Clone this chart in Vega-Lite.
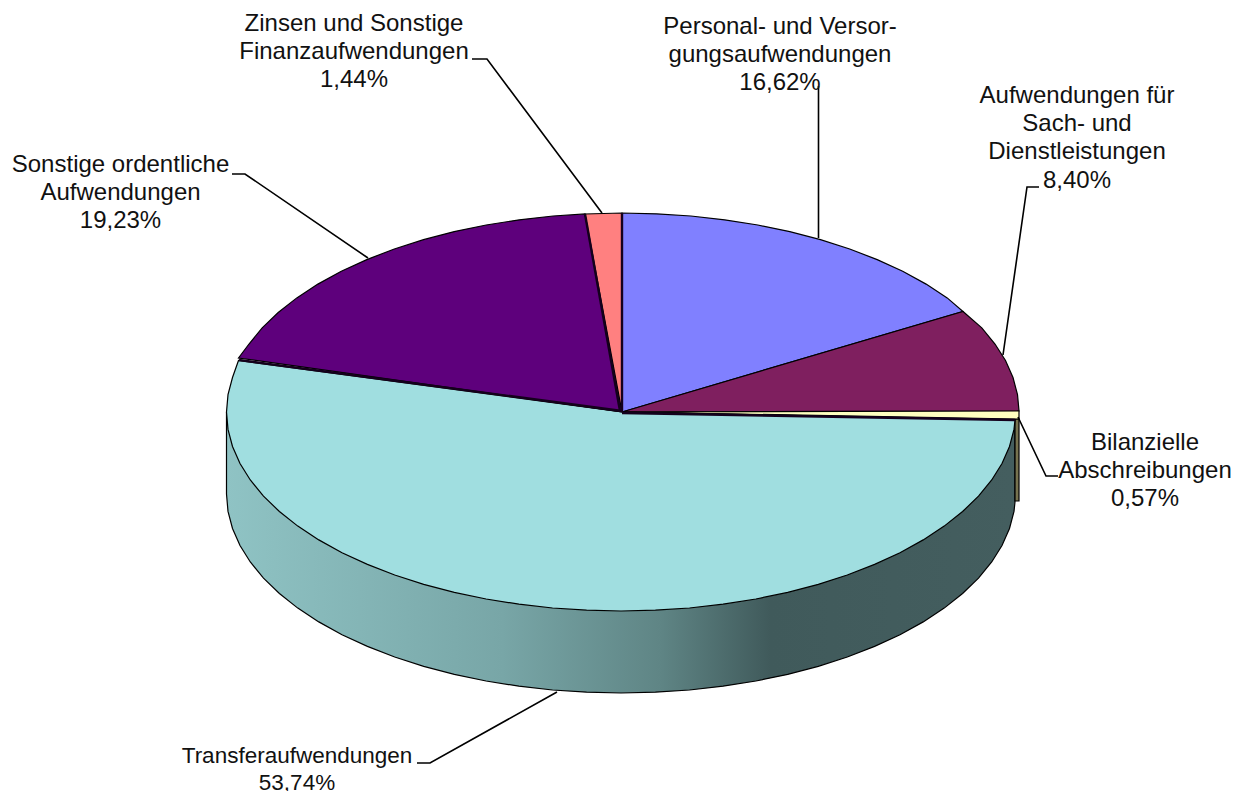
{
"$schema":"https://vega.github.io/schema/vega-lite/v6.json",
"width":1247,"height":791,
"autosize":{"type":"none"},
"padding":0,
"background":"white",
"config":{"view":{"stroke":null}},
"datasets":{
"wall":[
{"i":0,"x":226.5,"y":412},{"i":1,"x":226.5,"y":494},{"i":2,"x":228,"y":511.4},{"i":3,"x":232.5,"y":528.5},{"i":4,"x":240,"y":545.5},{"i":5,"x":250.3,"y":562},{"i":6,"x":263.5,"y":578.1},{"i":7,"x":279.4,"y":593.5},{"i":8,"x":297.8,"y":608.1},{"i":9,"x":318.8,"y":621.9},{"i":10,"x":342,"y":634.7},{"i":11,"x":367.4,"y":646.4},{"i":12,"x":394.7,"y":657},{"i":13,"x":423.7,"y":666.3},{"i":14,"x":454.3,"y":674.4},{"i":15,"x":486.1,"y":681},{"i":16,"x":518.9,"y":686.2},{"i":17,"x":552.5,"y":690},{"i":18,"x":586.6,"y":692.2},{"i":19,"x":621,"y":693},{"i":20,"x":655.4,"y":692.2},{"i":21,"x":689.5,"y":690},{"i":22,"x":723.1,"y":686.2},{"i":23,"x":755.9,"y":681},{"i":24,"x":787.7,"y":674.4},{"i":25,"x":818.3,"y":666.3},{"i":26,"x":847.3,"y":657},{"i":27,"x":874.6,"y":646.4},{"i":28,"x":900,"y":634.7},{"i":29,"x":923.2,"y":621.9},{"i":30,"x":944.2,"y":608.1},{"i":31,"x":962.6,"y":593.5},{"i":32,"x":978.5,"y":578.1},{"i":33,"x":991.7,"y":562},{"i":34,"x":1002,"y":545.5},{"i":35,"x":1009.5,"y":528.5},{"i":36,"x":1014,"y":511.4},{"i":37,"x":1015,"y":502},{"i":38,"x":1015,"y":420},{"i":39,"x":622,"y":412},{"i":40,"x":226.5,"y":412}
],
"slices":[
{"slice":"Abschreibungen Seite","i":0,"x":1015,"y":419},{"slice":"Abschreibungen Seite","i":1,"x":1019,"y":419},{"slice":"Abschreibungen Seite","i":2,"x":1019,"y":501},{"slice":"Abschreibungen Seite","i":3,"x":1015,"y":501},{"slice":"Abschreibungen Seite","i":4,"x":1015,"y":419},

{"slice":"Personal","i":0,"x":622,"y":412},{"slice":"Personal","i":1,"x":622,"y":213},{"slice":"Personal","i":2,"x":656.6,"y":213.8},{"slice":"Personal","i":3,"x":690.9,"y":216},{"slice":"Personal","i":4,"x":724.7,"y":219.8},{"slice":"Personal","i":5,"x":757.8,"y":225},{"slice":"Personal","i":6,"x":789.8,"y":231.6},{"slice":"Personal","i":7,"x":820.5,"y":239.7},{"slice":"Personal","i":8,"x":849.7,"y":249},{"slice":"Personal","i":9,"x":877.2,"y":259.6},{"slice":"Personal","i":10,"x":902.7,"y":271.3},{"slice":"Personal","i":11,"x":926.1,"y":284.1},{"slice":"Personal","i":12,"x":947.2,"y":297.9},{"slice":"Personal","i":13,"x":963,"y":311.5},{"slice":"Personal","i":14,"x":622,"y":412},

{"slice":"Sach","i":0,"x":622,"y":412},{"slice":"Sach","i":1,"x":963,"y":311.5},{"slice":"Sach","i":2,"x":981.8,"y":327.9},{"slice":"Sach","i":3,"x":995,"y":344},{"slice":"Sach","i":4,"x":1005.5,"y":360.5},{"slice":"Sach","i":5,"x":1013,"y":377.5},{"slice":"Sach","i":6,"x":1017.5,"y":394.6},{"slice":"Sach","i":7,"x":1019,"y":411},{"slice":"Sach","i":8,"x":622,"y":412},

{"slice":"Abschreibungen","i":0,"x":622,"y":412},{"slice":"Abschreibungen","i":1,"x":1019,"y":411},{"slice":"Abschreibungen","i":2,"x":1019,"y":419},{"slice":"Abschreibungen","i":3,"x":622,"y":412},

{"slice":"Transfer","i":0,"x":622,"y":412},{"slice":"Transfer","i":1,"x":238.5,"y":360.5},{"slice":"Transfer","i":2,"x":232.5,"y":377.5},{"slice":"Transfer","i":3,"x":228,"y":394.6},{"slice":"Transfer","i":4,"x":226.5,"y":412},{"slice":"Transfer","i":5,"x":228,"y":429.4},{"slice":"Transfer","i":6,"x":232.5,"y":446.5},{"slice":"Transfer","i":7,"x":240,"y":463.5},{"slice":"Transfer","i":8,"x":250.3,"y":480},{"slice":"Transfer","i":9,"x":263.5,"y":496.1},{"slice":"Transfer","i":10,"x":279.4,"y":511.5},{"slice":"Transfer","i":11,"x":297.8,"y":526.1},{"slice":"Transfer","i":12,"x":318.8,"y":539.9},{"slice":"Transfer","i":13,"x":342,"y":552.7},{"slice":"Transfer","i":14,"x":367.4,"y":564.4},{"slice":"Transfer","i":15,"x":394.7,"y":575},{"slice":"Transfer","i":16,"x":423.7,"y":584.3},{"slice":"Transfer","i":17,"x":454.3,"y":592.4},{"slice":"Transfer","i":18,"x":486.1,"y":599},{"slice":"Transfer","i":19,"x":518.9,"y":604.2},{"slice":"Transfer","i":20,"x":552.5,"y":608},{"slice":"Transfer","i":21,"x":586.6,"y":610.2},{"slice":"Transfer","i":22,"x":621,"y":611},{"slice":"Transfer","i":23,"x":655.4,"y":610.2},{"slice":"Transfer","i":24,"x":689.5,"y":608},{"slice":"Transfer","i":25,"x":723.1,"y":604.2},{"slice":"Transfer","i":26,"x":755.9,"y":599},{"slice":"Transfer","i":27,"x":787.7,"y":592.4},{"slice":"Transfer","i":28,"x":818.3,"y":584.3},{"slice":"Transfer","i":29,"x":847.3,"y":575},{"slice":"Transfer","i":30,"x":874.6,"y":564.4},{"slice":"Transfer","i":31,"x":900,"y":552.7},{"slice":"Transfer","i":32,"x":923.2,"y":539.9},{"slice":"Transfer","i":33,"x":944.2,"y":526.1},{"slice":"Transfer","i":34,"x":962.6,"y":511.5},{"slice":"Transfer","i":35,"x":978.5,"y":496.1},{"slice":"Transfer","i":36,"x":991.7,"y":480},{"slice":"Transfer","i":37,"x":1002,"y":463.5},{"slice":"Transfer","i":38,"x":1009.5,"y":446.5},{"slice":"Transfer","i":39,"x":1014,"y":429.4},{"slice":"Transfer","i":40,"x":1015,"y":420},{"slice":"Transfer","i":41,"x":622,"y":412},

{"slice":"Sonstige","i":0,"x":622,"y":412},{"slice":"Sonstige","i":1,"x":585,"y":214},{"slice":"Sonstige","i":2,"x":553.1,"y":216},{"slice":"Sonstige","i":3,"x":519.3,"y":219.8},{"slice":"Sonstige","i":4,"x":486.2,"y":225},{"slice":"Sonstige","i":5,"x":454.2,"y":231.6},{"slice":"Sonstige","i":6,"x":423.5,"y":239.7},{"slice":"Sonstige","i":7,"x":394.3,"y":249},{"slice":"Sonstige","i":8,"x":366.8,"y":259.6},{"slice":"Sonstige","i":9,"x":341.3,"y":271.3},{"slice":"Sonstige","i":10,"x":317.9,"y":284.1},{"slice":"Sonstige","i":11,"x":296.8,"y":297.9},{"slice":"Sonstige","i":12,"x":278.2,"y":312.5},{"slice":"Sonstige","i":13,"x":262.2,"y":327.9},{"slice":"Sonstige","i":14,"x":249,"y":344},{"slice":"Sonstige","i":15,"x":238.5,"y":358},{"slice":"Sonstige","i":16,"x":622,"y":412},

{"slice":"Zinsen","i":0,"x":622,"y":412},{"slice":"Zinsen","i":1,"x":622,"y":213},{"slice":"Zinsen","i":2,"x":585,"y":214},{"slice":"Zinsen","i":3,"x":622,"y":412}
],
"edges":[
{"edge":"a","i":0,"x":622,"y":213},{"edge":"a","i":1,"x":622,"y":412},
{"edge":"b","i":0,"x":585,"y":214},{"edge":"b","i":1,"x":620,"y":411},
{"edge":"c","i":0,"x":239,"y":360},{"edge":"c","i":1,"x":622,"y":411},
{"edge":"d","i":0,"x":622,"y":413},{"edge":"d","i":1,"x":1015,"y":420}
],
"leaders":[
{"leader":"Zinsen","i":0,"x":472,"y":59},{"leader":"Zinsen","i":1,"x":487,"y":59},{"leader":"Zinsen","i":2,"x":602,"y":213},
{"leader":"Personal","i":0,"x":818.5,"y":86},{"leader":"Personal","i":1,"x":818.5,"y":238},
{"leader":"Sach","i":0,"x":1039,"y":187},{"leader":"Sach","i":1,"x":1027,"y":187},{"leader":"Sach","i":2,"x":1003,"y":355},
{"leader":"Abschreibungen","i":0,"x":1018,"y":417},{"leader":"Abschreibungen","i":1,"x":1046,"y":476},{"leader":"Abschreibungen","i":2,"x":1058,"y":476},
{"leader":"Sonstige","i":0,"x":232,"y":174},{"leader":"Sonstige","i":1,"x":245,"y":174},{"leader":"Sonstige","i":2,"x":368,"y":258},
{"leader":"Transfer","i":0,"x":417,"y":763},{"leader":"Transfer","i":1,"x":430,"y":763},{"leader":"Transfer","i":2,"x":557,"y":692}
],
"labels":[
{"label":"Zinsen und Sonstige\nFinanzaufwendungen\n1,44%","x":354,"y":24},
{"label":"Personal- und Versor-\ngungsaufwendungen\n16,62%","x":780,"y":27},
{"label":"Aufwendungen für\nSach- und\nDienstleistungen\n8,40%","x":1077,"y":96},
{"label":"Bilanzielle\nAbschreibungen\n0,57%","x":1145,"y":443},
{"label":"Sonstige ordentliche\nAufwendungen\n19,23%","x":120.5,"y":165}
],
"labelsBottom":[
{"label":"Transferaufwendungen\n53,74%","x":297,"y":756}
]
},
"encoding":{
"x":{"field":"x","type":"quantitative","axis":null,"scale":{"domain":[0,1247],"nice":false,"zero":false}},
"y":{"field":"y","type":"quantitative","axis":null,"scale":{"domain":[791,0],"nice":false,"zero":false}}
},
"layer":[
{"data":{"name":"wall"},
 "mark":{"type":"line","stroke":"black","strokeWidth":1.2,"fill":{"gradient":"linear","x1":0,"x2":1,"y1":0,"y2":0,"stops":[{"offset":0,"color":"#8FC3C4"},{"offset":0.35,"color":"#78A6A7"},{"offset":0.55,"color":"#5F8585"},{"offset":0.69,"color":"#405A5B"},{"offset":1,"color":"#445E5F"}]}},
 "encoding":{"order":{"field":"i","type":"quantitative"}}},
{"data":{"name":"slices"},
 "mark":{"type":"line","stroke":"black","strokeWidth":1.2},
 "encoding":{
  "detail":{"field":"slice"},
  "order":{"field":"i","type":"quantitative"},
  "fill":{"field":"slice","type":"nominal","legend":null,"scale":{"domain":["Abschreibungen Seite","Personal","Sach","Abschreibungen","Transfer","Sonstige","Zinsen"],"range":["#77734F","#8080FF","#7F1F5F","#FFFFC0","#A0DEE0","#5E007C","#FF8080"]}}
 }},
{"data":{"name":"edges"},
 "mark":{"type":"line","stroke":"#14001C","strokeWidth":2.4},
 "encoding":{"detail":{"field":"edge"},"order":{"field":"i","type":"quantitative"}}},
{"data":{"name":"leaders"},
 "mark":{"type":"line","stroke":"black","strokeWidth":1.6},
 "encoding":{"detail":{"field":"leader"},"order":{"field":"i","type":"quantitative"}}},
{"data":{"name":"labels"},
 "mark":{"type":"text","font":"Liberation Sans","fontSize":24,"lineHeight":28.2,"lineBreak":"\n","align":"center","baseline":"middle","color":"#111111"},
 "encoding":{"text":{"field":"label"}}},
{"data":{"name":"labelsBottom"},
 "mark":{"type":"text","font":"Liberation Sans","fontSize":22.5,"lineHeight":27,"lineBreak":"\n","align":"center","baseline":"middle","color":"#111111"},
 "encoding":{"text":{"field":"label"}}}
]
}
